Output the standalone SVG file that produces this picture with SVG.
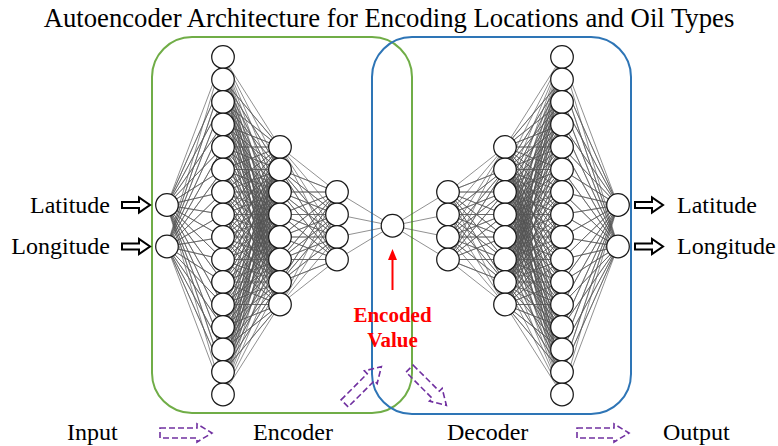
<svg xmlns="http://www.w3.org/2000/svg" xmlns:xlink="http://www.w3.org/1999/xlink" width="778" height="446" viewBox="0 0 778 446">
  <style>
    .txt { font-family: "Liberation Serif", "Times New Roman", serif; fill: #000; }
    .title { font-size: 26.7px; }
    .lbl { font-size: 24px; }
    .code-lbl { font-family: "Liberation Serif", "Times New Roman", serif; font-size: 21px; font-weight: bold; fill: #ff0000; }
    .box { fill: none; stroke-width: 2; }
    .edge { fill: none; stroke: #555; stroke-width: 0.65; stroke-linejoin: round; }
    .neuron circle { fill: #fff; stroke: #1a1a1a; stroke-width: 1.25; }
    .io-arrow { fill: #fff; stroke: #000; stroke-width: 2; stroke-linejoin: miter; }
    .flow { fill: none; stroke: #7030a0; stroke-width: 1.6; stroke-dasharray: 6 3; }
  </style>
  <defs>
    <!-- upper half of the encoder wiring; the rest comes from mirroring -->
    <g id="halfEdges" class="edge">
      <!-- input (167,205) to hidden layer 1 -->
      <path d="M223 57L167 205 223 79.5 167 205 223 102 167 205 223 124.5 167 205 223 147 167 205 223 169.5 167 205 223 192 167 205 223 214.5 167 205 223 237 167 205 223 259.5 167 205 223 282 167 205 223 304.5 167 205 223 327 167 205 223 349.5 167 205 223 372 167 205 223 394.5"/>
      <!-- hidden layer 2 (upper four) to hidden layer 1 -->
      <path d="M223 57L280 147 223 79.5 280 147 223 102 280 147 223 124.5 280 147 223 147 280 147 223 169.5 280 147 223 192 280 147 223 214.5 280 147 223 237 280 147 223 259.5 280 147 223 282 280 147 223 304.5 280 147 223 327 280 147 223 349.5 280 147 223 372 280 147 223 394.5"/>
      <path d="M223 57L280 169.5 223 79.5 280 169.5 223 102 280 169.5 223 124.5 280 169.5 223 147 280 169.5 223 169.5 280 169.5 223 192 280 169.5 223 214.5 280 169.5 223 237 280 169.5 223 259.5 280 169.5 223 282 280 169.5 223 304.5 280 169.5 223 327 280 169.5 223 349.5 280 169.5 223 372 280 169.5 223 394.5"/>
      <path d="M223 57L280 192 223 79.5 280 192 223 102 280 192 223 124.5 280 192 223 147 280 192 223 169.5 280 192 223 192 280 192 223 214.5 280 192 223 237 280 192 223 259.5 280 192 223 282 280 192 223 304.5 280 192 223 327 280 192 223 349.5 280 192 223 372 280 192 223 394.5"/>
      <path d="M223 57L280 214.5 223 79.5 280 214.5 223 102 280 214.5 223 124.5 280 214.5 223 147 280 214.5 223 169.5 280 214.5 223 192 280 214.5 223 214.5 280 214.5 223 237 280 214.5 223 259.5 280 214.5 223 282 280 214.5 223 304.5 280 214.5 223 327 280 214.5 223 349.5 280 214.5 223 372 280 214.5 223 394.5"/>
      <!-- hidden layer 3 (upper two) to hidden layer 2 -->
      <path d="M280 147L337 192 280 169.5 337 192 280 192 337 192 280 214.5 337 192 280 237 337 192 280 259.5 337 192 280 282 337 192 280 304.5"/>
      <path d="M280 147L337 214.5 280 169.5 337 214.5 280 192 337 214.5 280 214.5 337 214.5 280 237 337 214.5 280 259.5 337 214.5 280 282 337 214.5 280 304.5"/>
      <!-- code node to hidden layer 3 -->
      <path d="M337 192L392.5 225.75 337 214.5"/>
    </g>
    <g id="encoderEdges">
      <use xlink:href="#halfEdges"/>
      <use xlink:href="#halfEdges" transform="matrix(1 0 0 -1 0 451.5)"/>
    </g>
    <path id="ioArrow" class="io-arrow" d="M0 -3H17V-7.5L28 0L17 7.5V3H0Z"/>
    <path id="flowArrow" class="flow" d="M-26 -5H11V-9L26 0L11 9V5H-26Z"/>
  </defs>

  <rect width="778" height="446" fill="#fff"/>

  <!-- encoder / decoder frames -->
  <rect id="encoder-frame" class="box" x="152" y="37" width="260" height="376" rx="40" stroke="#70ad47"/>
  <rect id="decoder-frame" class="box" x="372" y="37" width="259" height="377" rx="40" stroke="#2e75b6"/>

  <!-- fully connected wiring -->
  <g id="connectors">
    <use xlink:href="#encoderEdges"/>
    <use xlink:href="#encoderEdges" transform="matrix(-1 0 0 1 785 0)"/>
  </g>

  <!-- encoder input layer -->
  <g id="in-1" class="neuron"><circle cx="167" cy="205" r="11.3"/></g>
  <g id="in-2" class="neuron"><circle cx="167" cy="246.5" r="11.3"/></g>

  <!-- encoder hidden layer 1 -->
  <g id="enc1-1" class="neuron"><circle cx="223" cy="57" r="11.3"/></g>
  <g id="enc1-2" class="neuron"><circle cx="223" cy="79.5" r="11.3"/></g>
  <g id="enc1-3" class="neuron"><circle cx="223" cy="102" r="11.3"/></g>
  <g id="enc1-4" class="neuron"><circle cx="223" cy="124.5" r="11.3"/></g>
  <g id="enc1-5" class="neuron"><circle cx="223" cy="147" r="11.3"/></g>
  <g id="enc1-6" class="neuron"><circle cx="223" cy="169.5" r="11.3"/></g>
  <g id="enc1-7" class="neuron"><circle cx="223" cy="192" r="11.3"/></g>
  <g id="enc1-8" class="neuron"><circle cx="223" cy="214.5" r="11.3"/></g>
  <g id="enc1-9" class="neuron"><circle cx="223" cy="237" r="11.3"/></g>
  <g id="enc1-10" class="neuron"><circle cx="223" cy="259.5" r="11.3"/></g>
  <g id="enc1-11" class="neuron"><circle cx="223" cy="282" r="11.3"/></g>
  <g id="enc1-12" class="neuron"><circle cx="223" cy="304.5" r="11.3"/></g>
  <g id="enc1-13" class="neuron"><circle cx="223" cy="327" r="11.3"/></g>
  <g id="enc1-14" class="neuron"><circle cx="223" cy="349.5" r="11.3"/></g>
  <g id="enc1-15" class="neuron"><circle cx="223" cy="372" r="11.3"/></g>
  <g id="enc1-16" class="neuron"><circle cx="223" cy="394.5" r="11.3"/></g>

  <!-- encoder hidden layer 2 -->
  <g id="enc2-1" class="neuron"><circle cx="280" cy="147" r="11.3"/></g>
  <g id="enc2-2" class="neuron"><circle cx="280" cy="169.5" r="11.3"/></g>
  <g id="enc2-3" class="neuron"><circle cx="280" cy="192" r="11.3"/></g>
  <g id="enc2-4" class="neuron"><circle cx="280" cy="214.5" r="11.3"/></g>
  <g id="enc2-5" class="neuron"><circle cx="280" cy="237" r="11.3"/></g>
  <g id="enc2-6" class="neuron"><circle cx="280" cy="259.5" r="11.3"/></g>
  <g id="enc2-7" class="neuron"><circle cx="280" cy="282" r="11.3"/></g>
  <g id="enc2-8" class="neuron"><circle cx="280" cy="304.5" r="11.3"/></g>

  <!-- encoder hidden layer 3 -->
  <g id="enc3-1" class="neuron"><circle cx="337" cy="192" r="11.3"/></g>
  <g id="enc3-2" class="neuron"><circle cx="337" cy="214.5" r="11.3"/></g>
  <g id="enc3-3" class="neuron"><circle cx="337" cy="237" r="11.3"/></g>
  <g id="enc3-4" class="neuron"><circle cx="337" cy="259.5" r="11.3"/></g>

  <!-- bottleneck -->
  <g id="code" class="neuron"><circle cx="392.5" cy="225.75" r="11.3"/></g>

  <!-- decoder hidden layer 1 -->
  <g id="dec1-1" class="neuron"><circle cx="448" cy="192" r="11.3"/></g>
  <g id="dec1-2" class="neuron"><circle cx="448" cy="214.5" r="11.3"/></g>
  <g id="dec1-3" class="neuron"><circle cx="448" cy="237" r="11.3"/></g>
  <g id="dec1-4" class="neuron"><circle cx="448" cy="259.5" r="11.3"/></g>

  <!-- decoder hidden layer 2 -->
  <g id="dec2-1" class="neuron"><circle cx="505" cy="147" r="11.3"/></g>
  <g id="dec2-2" class="neuron"><circle cx="505" cy="169.5" r="11.3"/></g>
  <g id="dec2-3" class="neuron"><circle cx="505" cy="192" r="11.3"/></g>
  <g id="dec2-4" class="neuron"><circle cx="505" cy="214.5" r="11.3"/></g>
  <g id="dec2-5" class="neuron"><circle cx="505" cy="237" r="11.3"/></g>
  <g id="dec2-6" class="neuron"><circle cx="505" cy="259.5" r="11.3"/></g>
  <g id="dec2-7" class="neuron"><circle cx="505" cy="282" r="11.3"/></g>
  <g id="dec2-8" class="neuron"><circle cx="505" cy="304.5" r="11.3"/></g>

  <!-- decoder hidden layer 3 -->
  <g id="dec3-1" class="neuron"><circle cx="562" cy="57" r="11.3"/></g>
  <g id="dec3-2" class="neuron"><circle cx="562" cy="79.5" r="11.3"/></g>
  <g id="dec3-3" class="neuron"><circle cx="562" cy="102" r="11.3"/></g>
  <g id="dec3-4" class="neuron"><circle cx="562" cy="124.5" r="11.3"/></g>
  <g id="dec3-5" class="neuron"><circle cx="562" cy="147" r="11.3"/></g>
  <g id="dec3-6" class="neuron"><circle cx="562" cy="169.5" r="11.3"/></g>
  <g id="dec3-7" class="neuron"><circle cx="562" cy="192" r="11.3"/></g>
  <g id="dec3-8" class="neuron"><circle cx="562" cy="214.5" r="11.3"/></g>
  <g id="dec3-9" class="neuron"><circle cx="562" cy="237" r="11.3"/></g>
  <g id="dec3-10" class="neuron"><circle cx="562" cy="259.5" r="11.3"/></g>
  <g id="dec3-11" class="neuron"><circle cx="562" cy="282" r="11.3"/></g>
  <g id="dec3-12" class="neuron"><circle cx="562" cy="304.5" r="11.3"/></g>
  <g id="dec3-13" class="neuron"><circle cx="562" cy="327" r="11.3"/></g>
  <g id="dec3-14" class="neuron"><circle cx="562" cy="349.5" r="11.3"/></g>
  <g id="dec3-15" class="neuron"><circle cx="562" cy="372" r="11.3"/></g>
  <g id="dec3-16" class="neuron"><circle cx="562" cy="394.5" r="11.3"/></g>

  <!-- decoder output layer -->
  <g id="out-1" class="neuron"><circle cx="618" cy="205" r="11.3"/></g>
  <g id="out-2" class="neuron"><circle cx="618" cy="246.5" r="11.3"/></g>

  <!-- input / output arrows -->
  <use xlink:href="#ioArrow" transform="translate(122 205)"/>
  <use xlink:href="#ioArrow" transform="translate(122 246.5)"/>
  <use xlink:href="#ioArrow" transform="translate(635 205)"/>
  <use xlink:href="#ioArrow" transform="translate(635 246.5)"/>

  <!-- data flow arrows -->
  <use xlink:href="#flowArrow" transform="translate(186 433)"/>
  <use xlink:href="#flowArrow" transform="translate(603 433)"/>
  <use xlink:href="#flowArrow" transform="translate(363 385) rotate(-45)"/>
  <use xlink:href="#flowArrow" transform="translate(428 387) rotate(45)"/>

  <!-- pointer to the encoded value -->
  <g id="code-pointer">
    <line x1="392.5" y1="290" x2="392.5" y2="258" stroke="#ff0000" stroke-width="2"/>
    <path d="M392.5 249L388 260H397Z" fill="#ff0000"/>
  </g>

  <!-- labels -->
  <text class="txt title" x="389" y="27" text-anchor="middle">Autoencoder Architecture for Encoding Locations and Oil Types</text>
  <text class="txt lbl" x="110" y="213" text-anchor="end">Latitude</text>
  <text class="txt lbl" x="110" y="254" text-anchor="end">Longitude</text>
  <text class="txt lbl" x="677" y="213">Latitude</text>
  <text class="txt lbl" x="677" y="254">Longitude</text>
  <text class="code-lbl" x="392.5" y="322" text-anchor="middle">Encoded</text>
  <text class="code-lbl" x="392.5" y="347" text-anchor="middle">Value</text>
  <text class="txt lbl" x="67" y="440">Input</text>
  <text class="txt lbl" x="253" y="440">Encoder</text>
  <text class="txt lbl" x="447" y="440">Decoder</text>
  <text class="txt lbl" x="663" y="440">Output</text>
</svg>
